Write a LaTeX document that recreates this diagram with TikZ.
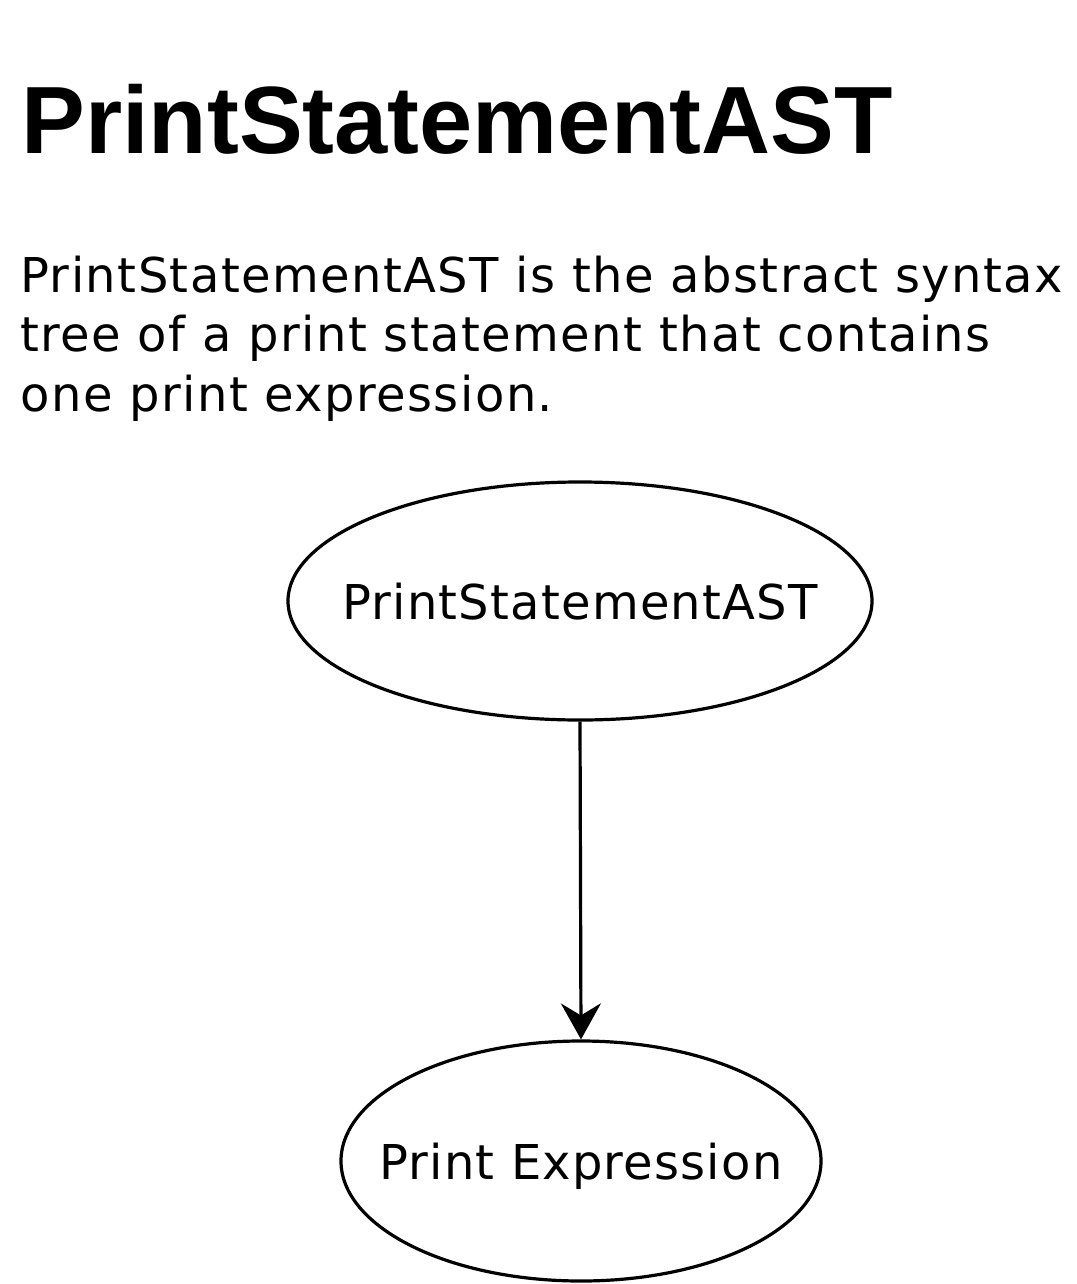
\documentclass[tikz,border=0pt]{standalone}
\usepackage{fontspec}
\setmainfont{DejaVu Sans}
\newfontfamily\titlefont{Liberation Sans}
\newfontfamily\bodyfont[LetterSpace=3]{DejaVu Sans}
\newfontfamily\nodefont[LetterSpace=2.5]{DejaVu Sans}
\usetikzlibrary{shapes,arrows.meta,positioning}

\tikzset{
  astnode/.style={draw, ellipse, line width=1.6pt, inner sep=0pt, text depth=0pt,
    font=\nodefont\fontsize{24pt}{28pt}\selectfont},
  astedge/.style={-{Stealth[length=18pt, width=20pt, inset=6pt]}, line width=1.6pt}
}

\begin{document}
\begin{tikzpicture}[x=0.5pt, y=-0.5pt]
\useasboundingbox (0,0) rectangle (1076,1284);

% titel
\node[anchor=base west, inner sep=0pt, font=\titlefont\bfseries\fontsize{47.8pt}{56pt}\selectfont] (title) at (21,154) {PrintStatementAST};

% beschreibung
\node[anchor=base west, inner sep=0pt, align=left, font=\bodyfont\fontsize{24pt}{29.75pt}\selectfont] (desc) at (20,411)
  {PrintStatementAST is the abstract syntax\\tree of a print statement that contains\\one print expression.};

% knoten
\node[astnode, minimum width=292pt, minimum height=119pt] (stmt) at (580,601) {\makebox[0pt]{PrintStatementAST}};
\node[astnode, minimum width=240pt, minimum height=120pt] (expr) at (581,1161) {\makebox[0pt]{Print Expression}};

% kante
\draw[astedge] (stmt.south) -- (expr.north);
\end{tikzpicture}
\end{document}
